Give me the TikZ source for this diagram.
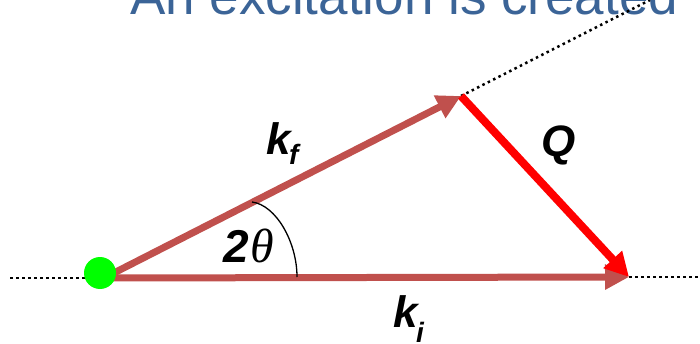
\documentclass[tikz,border=0pt]{standalone}
\usepackage{fontspec}
\setmainfont{Liberation Sans}
\newfontfamily\grkfont{Liberation Serif}
\usetikzlibrary{arrows.meta}
\definecolor{vecred}{HTML}{C0504D}
\definecolor{qred}{HTML}{FF0000}
\definecolor{titleblue}{HTML}{3B6497}
\definecolor{dotgreen}{HTML}{00FF00}
\tikzset{
    vec/.style={line width=7pt, -{Triangle[length=24pt, width=24pt]}},
    guide/.style={line width=2.5pt, dash pattern=on 2.5pt off 3.5pt},
    lbl/.style={anchor=base west, inner sep=0pt, font=\fontsize{44}{48}\selectfont\bfseries\itshape},
    sub/.style={anchor=base west, inner sep=0pt, font=\fontsize{28}{30}\selectfont\bfseries\itshape}
}

\begin{document}
\begin{tikzpicture}[x=1pt, y=-1pt]
            \useasboundingbox (0,0) rectangle (700,344);

            % ---------------- title ----------------
            \node[anchor=base west, inner sep=0pt, text=titleblue,
                  font=\fontsize{53}{60}\selectfont] (title) at (130,15) {An excitation is created};

            % ---------------- points ----------------
            \coordinate (o) at (104,278);
            \coordinate (kf) at (461,96);
            \coordinate (ki) at (629,277);
            \coordinate (ledge) at (10,278);
            \coordinate (redge) at (700,277);
            \coordinate (tedge) at (650,0);
            \coordinate (arcA) at (252,202);
            \coordinate (arcB) at (297,277);

            % ---------------- guides ----------------
            \draw[guide] (ledge) -- (o);
            \draw[guide] (ki) -- (redge);
            \draw[guide] (kf) -- (tedge);

            % ---------------- vectors ----------------
            \draw[vec, vecred] (o) -- (ki);
            \draw[vec, vecred] (o) -- (kf);
            \draw[vec, qred, line width=8pt] (kf) -- (ki);

            \draw[line width=1.3pt] (arcA) .. controls (276,205) and (297,242) .. (arcB);

            \node[circle, fill=dotgreen, inner sep=0pt, minimum size=32pt] (src) at (100,273) {};

            % ---------------- labels ----------------
            \node[lbl] (kflbl) at (266,155) {k};
            \node[sub] (kfsub) at (289,165) {f};
            \node[lbl] (kilbl) at (393,327) {k};
            \node[sub] (kisub) at (416,342) {i};
            \node[lbl] (qlbl) at (541,157) {Q};
            \node[lbl, font=\fontsize{46}{48}\selectfont\bfseries\itshape] (twolbl) at (223,262) {2};
            \node[anchor=base west, inner sep=0pt, font=\fontsize{48}{50}\selectfont\grkfont\itshape]
                (thlbl) at (250,262) {θ};
        \end{tikzpicture}
\end{document}
